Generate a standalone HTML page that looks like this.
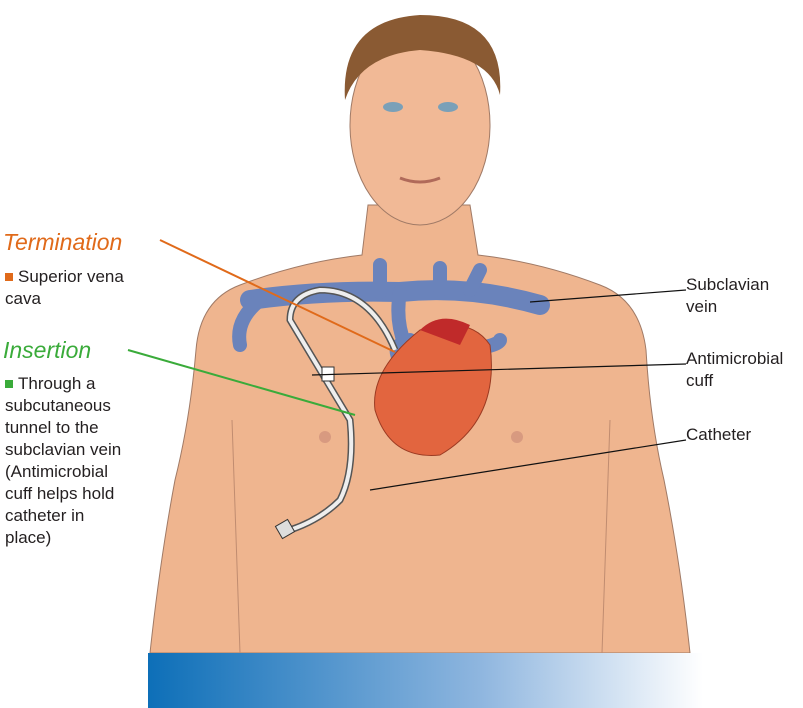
<!DOCTYPE html>
<html><head><meta charset="utf-8"><style>
body{margin:0;background:#fff;}
.w{position:relative;width:803px;height:708px;overflow:hidden;font-family:"Liberation Sans",sans-serif;}
.t{position:absolute;font-size:17px;line-height:22px;color:#231f20;}
.h{position:absolute;font-style:italic;font-size:23px;}
.sq{display:inline-block;width:8px;height:8px;margin-right:5px;vertical-align:1px;}
</style></head><body><div class="w">
<svg width="803" height="708" style="position:absolute;left:0;top:0">
<defs><linearGradient id="g" x1="0" x2="1"><stop offset="0" stop-color="#0d6fb8"/><stop offset="0.6" stop-color="#8fb6df"/><stop offset="1" stop-color="#fff"/></linearGradient></defs>
<!-- torso -->
<path d="M368,205 L362,255 Q300,262 240,285 Q200,300 196,350 Q190,420 175,480 Q160,560 150,653 L690,653 Q680,560 664,480 Q650,420 646,350 Q640,300 600,285 Q540,262 478,255 L470,205 Z" fill="#efb58f" stroke="#a07a66" stroke-width="1"/>
<path d="M232,420 Q236,540 240,653 M610,420 Q606,540 602,653" stroke="#c08c70" fill="none"/>
<!-- head -->
<ellipse cx="420" cy="125" rx="70" ry="100" fill="#f1b996" stroke="#a07a66"/>
<path d="M345,100 Q340,20 420,15 Q505,15 500,95 Q490,55 420,50 Q360,55 345,100Z" fill="#8a5a33"/>
<ellipse cx="393" cy="107" rx="10" ry="5" fill="#7aa0b8"/><ellipse cx="448" cy="107" rx="10" ry="5" fill="#7aa0b8"/>
<path d="M400,178 Q420,186 440,178" stroke="#b06a5a" stroke-width="3" fill="none"/>
<circle cx="325" cy="437" r="6" fill="#d89a80"/><circle cx="517" cy="437" r="6" fill="#d89a80"/>
<!-- veins -->
<path d="M250,300 Q320,290 400,292 Q470,285 540,305" stroke="#6a83bb" stroke-width="20" fill="none" stroke-linecap="round"/>
<path d="M260,300 Q235,320 240,345 M400,292 Q395,320 405,345 M380,292 L380,265 M440,290 L440,268 M470,290 L480,270" stroke="#6a83bb" stroke-width="14" fill="none" stroke-linecap="round"/>
<path d="M410,340 Q390,345 400,360 Q430,375 470,350 Q500,345 500,340" stroke="#6a83bb" stroke-width="14" fill="none" stroke-linecap="round"/>
<!-- heart -->
<path d="M420,330 Q470,315 490,345 Q500,420 440,455 Q390,460 375,410 Q370,370 420,330Z" fill="#e2653f" stroke="#9b3a22"/>
<path d="M420,330 Q440,310 470,325 L460,345 Z" fill="#c02a2a"/>
<!-- catheter -->
<path d="M395,350 Q370,290 320,290 Q290,295 290,320 L350,420 Q355,470 340,500 Q320,520 290,530" stroke="#555" stroke-width="7" fill="none"/>
<path d="M395,350 Q370,290 320,290 Q290,295 290,320 L350,420 Q355,470 340,500 Q320,520 290,530" stroke="#eee" stroke-width="4" fill="none"/>
<rect x="322" y="367" width="12" height="14" fill="#fff" stroke="#333"/>
<rect x="278" y="522" width="14" height="14" fill="#ddd" stroke="#333" transform="rotate(-30 285 529)"/>
<!-- leaders -->
<line x1="160" y1="240" x2="395" y2="352" stroke="#e06a1a" stroke-width="2"/>
<line x1="128" y1="350" x2="355" y2="415" stroke="#3aab3a" stroke-width="2"/>
<line x1="686" y1="290" x2="530" y2="302" stroke="#111" stroke-width="1.2"/>
<line x1="686" y1="364" x2="312" y2="375" stroke="#111" stroke-width="1.2"/>
<line x1="686" y1="440" x2="370" y2="490" stroke="#111" stroke-width="1.2"/>
<rect x="148" y="653" width="555" height="55" fill="url(#g)"/>
</svg>
<div class="h" style="left:3px;top:229px;color:#e06a1a">Termination</div>
<div class="t" style="left:5px;top:266px"><span class="sq" style="background:#e06a1a"></span>Superior vena<br>cava</div>
<div class="h" style="left:3px;top:337px;color:#3aab3a">Insertion</div>
<div class="t" style="left:5px;top:373px"><span class="sq" style="background:#3aab3a"></span>Through a<br>subcutaneous<br>tunnel to the<br>subclavian vein<br>(Antimicrobial<br>cuff helps hold<br>catheter in<br>place)</div>
<div class="t" style="left:686px;top:274px">Subclavian<br>vein</div>
<div class="t" style="left:686px;top:348px">Antimicrobial<br>cuff</div>
<div class="t" style="left:686px;top:424px">Catheter</div>
</div></body></html>
